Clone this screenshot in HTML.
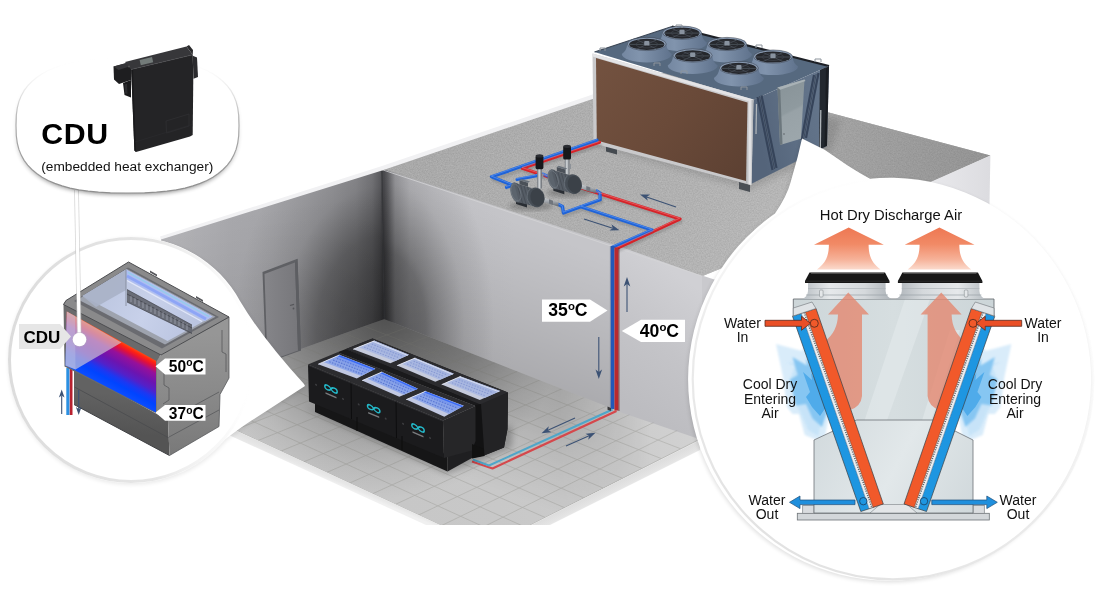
<!DOCTYPE html>
<html>
<head>
<meta charset="utf-8">
<title>Cooling diagram</title>
<style>
html,body{margin:0;padding:0;background:#fff;}
body{width:1100px;height:600px;overflow:hidden;position:relative;font-family:"Liberation Sans",sans-serif;}
svg{position:absolute;left:0;top:0;display:block;}
text{font-family:"Liberation Sans",sans-serif;}
svg{opacity:0.999;}
</style>
</head>
<body>
<svg width="1100" height="600" viewBox="0 0 1100 600">
<defs>
  <!-- DEFS-START -->
  <filter id="speck" x="0" y="0" width="100%" height="100%" color-interpolation-filters="sRGB">
    <feTurbulence type="fractalNoise" baseFrequency="0.75" numOctaves="2" seed="7" result="n"/>
    <feColorMatrix in="n" type="matrix" values="0.15 0 0 0 0.61  0.15 0 0 0 0.61  0.15 0 0 0 0.61  0 0 0 0 1" result="g"/>
    <feComposite in="g" in2="SourceGraphic" operator="in"/>
  </filter>
  <filter id="b1"><feGaussianBlur stdDeviation="1"/></filter>
  <filter id="b2"><feGaussianBlur stdDeviation="2"/></filter>
  <filter id="b3"><feGaussianBlur stdDeviation="3"/></filter>
  <filter id="b6"><feGaussianBlur stdDeviation="6"/></filter>
  <linearGradient id="gLeftWall" gradientUnits="userSpaceOnUse" x1="161" y1="0" x2="384" y2="0">
    <stop offset="0.000" stop-color="#bababe"/>
    <stop offset="0.309" stop-color="#adadb1"/>
    <stop offset="0.498" stop-color="#aaaaae"/>
    <stop offset="0.655" stop-color="#a6a6aa"/>
    <stop offset="0.771" stop-color="#a0a0a4"/>
    <stop offset="0.874" stop-color="#96969a"/>
    <stop offset="0.946" stop-color="#828286"/>
    <stop offset="0.982" stop-color="#69696d"/>
    <stop offset="1.000" stop-color="#505054"/>
  </linearGradient>
  <linearGradient id="gBackWall" gradientUnits="userSpaceOnUse" x1="384" y1="0" x2="614" y2="0">
    <stop offset="0.000" stop-color="#4e4e52"/>
    <stop offset="0.017" stop-color="#66666a"/>
    <stop offset="0.048" stop-color="#9e9ea2"/>
    <stop offset="0.113" stop-color="#b9b9bd"/>
    <stop offset="0.217" stop-color="#c0c0c4"/>
    <stop offset="0.565" stop-color="#c5c5c9"/>
    <stop offset="1.000" stop-color="#c5c5c9"/>
  </linearGradient>
  <radialGradient id="gBackWallV" gradientUnits="userSpaceOnUse" cx="0" cy="0" r="1" gradientTransform="translate(384,328) scale(110,200)">
    <stop offset="0" stop-color="#000" stop-opacity="0.46"/>
    <stop offset="0.33" stop-color="#000" stop-opacity="0.4"/>
    <stop offset="0.38" stop-color="#000" stop-opacity="0.38"/>
    <stop offset="0.44" stop-color="#000" stop-opacity="0.31"/>
    <stop offset="0.57" stop-color="#000" stop-opacity="0.21"/>
    <stop offset="0.73" stop-color="#000" stop-opacity="0.09"/>
    <stop offset="0.9" stop-color="#000" stop-opacity="0.04"/>
    <stop offset="1" stop-color="#000" stop-opacity="0"/>
  </radialGradient>
  <linearGradient id="gFloor" gradientUnits="userSpaceOnUse" x1="200" y1="0" x2="700" y2="0">
    <stop offset="0" stop-color="#c5c5c5"/>
    <stop offset="0.6" stop-color="#c8c8c8"/>
    <stop offset="0.85" stop-color="#cccccc"/>
    <stop offset="1" stop-color="#d2d2d2"/>
  </linearGradient>
  <linearGradient id="gCutWall" gradientUnits="userSpaceOnUse" x1="620" y1="400" x2="700" y2="290">
    <stop offset="0" stop-color="#bcbcc0"/>
    <stop offset="0.5" stop-color="#c4c4c8"/>
    <stop offset="1" stop-color="#d0d0d4"/>
  </linearGradient>

  <linearGradient id="gBrown" gradientUnits="userSpaceOnUse" x1="596" y1="60" x2="748" y2="180">
    <stop offset="0" stop-color="#735240"/>
    <stop offset="0.5" stop-color="#6a4a39"/>
    <stop offset="1" stop-color="#5c4032"/>
  </linearGradient>
  <linearGradient id="gSilverV" gradientUnits="userSpaceOnUse" x1="746" y1="0" x2="754" y2="0">
    <stop offset="0" stop-color="#a9abae"/>
    <stop offset="0.5" stop-color="#e9e9eb"/>
    <stop offset="1" stop-color="#9a9da1"/>
  </linearGradient>
  <linearGradient id="gCoolSide" gradientUnits="userSpaceOnUse" x1="753" y1="120" x2="829" y2="100">
    <stop offset="0" stop-color="#54647a"/>
    <stop offset="0.5" stop-color="#5e6f85"/>
    <stop offset="1" stop-color="#65768c"/>
  </linearGradient>
  <linearGradient id="gCtrl" gradientUnits="userSpaceOnUse" x1="780" y1="90" x2="803" y2="135">
    <stop offset="0" stop-color="#8a959a"/>
    <stop offset="0.45" stop-color="#8f9a9f"/>
    <stop offset="0.5" stop-color="#98a2a7"/>
    <stop offset="1" stop-color="#9ca6ab"/>
  </linearGradient>
  <radialGradient id="gFanIn" cx="0.5" cy="0.5" r="0.5">
    <stop offset="0" stop-color="#4a4f57"/>
    <stop offset="0.3" stop-color="#22252b"/>
    <stop offset="1" stop-color="#2d3138"/>
  </radialGradient>

  <linearGradient id="gSteel" x1="0" y1="0" x2="1" y2="0">
    <stop offset="0" stop-color="#6d7279"/>
    <stop offset="0.45" stop-color="#d9dde0"/>
    <stop offset="1" stop-color="#5f646b"/>
  </linearGradient>
  <linearGradient id="gSteel2" x1="0" y1="0" x2="0" y2="1">
    <stop offset="0" stop-color="#c9cdd1"/>
    <stop offset="0.5" stop-color="#9da2a8"/>
    <stop offset="1" stop-color="#5f646b"/>
  </linearGradient>

  <linearGradient id="gDoor" gradientUnits="userSpaceOnUse" x1="265" y1="300" x2="298" y2="300">
    <stop offset="0" stop-color="#858589"/>
    <stop offset="1" stop-color="#77777b"/>
  </linearGradient>

  <linearGradient id="gGlassF" x1="0" y1="1" x2="1" y2="0">
    <stop offset="0" stop-color="#a9baec"/>
    <stop offset="0.4" stop-color="#8da6e8"/>
    <stop offset="1" stop-color="#6d8ce6"/>
  </linearGradient>
  <linearGradient id="gGlassB" x1="0" y1="1" x2="1" y2="0">
    <stop offset="0" stop-color="#b9c4e4"/>
    <stop offset="0.5" stop-color="#a7b6e0"/>
    <stop offset="1" stop-color="#98aadc"/>
  </linearGradient>

  <linearGradient id="gRingL" gradientUnits="userSpaceOnUse" x1="10" y1="360" x2="252" y2="360">
    <stop offset="0" stop-color="#dcdcdc"/>
    <stop offset="0.6" stop-color="#e6e6e6"/>
    <stop offset="0.9" stop-color="#f4f4f4" stop-opacity="0.5"/>
    <stop offset="1" stop-color="#fff" stop-opacity="0"/>
  </linearGradient>
  <linearGradient id="gHeat" gradientUnits="userSpaceOnUse" x1="110" y1="335.4" x2="88.2" y2="375.7">
    <stop offset="0" stop-color="#ff4a14"/>
    <stop offset="0.06" stop-color="#ff2410"/>
    <stop offset="0.14" stop-color="#e0103c"/>
    <stop offset="0.26" stop-color="#96109a"/>
    <stop offset="0.45" stop-color="#6c14b0"/>
    <stop offset="0.6" stop-color="#5420c8"/>
    <stop offset="0.74" stop-color="#1c38f2"/>
    <stop offset="0.86" stop-color="#0044ff"/>
    <stop offset="1" stop-color="#0a4cff"/>
  </linearGradient>
  <linearGradient id="gULower" gradientUnits="userSpaceOnUse" x1="120" y1="395" x2="116" y2="432">
    <stop offset="0" stop-color="#626262"/>
    <stop offset="1" stop-color="#545454"/>
  </linearGradient>
  <linearGradient id="gURight" gradientUnits="userSpaceOnUse" x1="190" y1="335" x2="195" y2="450">
    <stop offset="0" stop-color="#969696"/>
    <stop offset="0.5" stop-color="#8a8a8a"/>
    <stop offset="1" stop-color="#7a7a7a"/>
  </linearGradient>
  <linearGradient id="gTank" gradientUnits="userSpaceOnUse" x1="100" y1="290" x2="190" y2="335">
    <stop offset="0" stop-color="#bcc6e0"/>
    <stop offset="0.5" stop-color="#c8d1ea"/>
    <stop offset="1" stop-color="#bac4e0"/>
  </linearGradient>

  <linearGradient id="gBubEdge" gradientUnits="userSpaceOnUse" x1="0" y1="58" x2="0" y2="194">
    <stop offset="0" stop-color="#fff" stop-opacity="0"/>
    <stop offset="0.22" stop-color="#d0d0d0" stop-opacity="0.4"/>
    <stop offset="0.45" stop-color="#b0b0b0"/>
    <stop offset="1" stop-color="#8e8e8e"/>
  </linearGradient>
  <linearGradient id="gBubMask" gradientUnits="userSpaceOnUse" x1="0" y1="70" x2="0" y2="196">
    <stop offset="0" stop-color="#000"/>
    <stop offset="0.45" stop-color="#444"/>
    <stop offset="1" stop-color="#fff"/>
  </linearGradient>
  <mask id="mBub" maskUnits="userSpaceOnUse" x="0" y="40" width="260" height="170"><rect x="0" y="40" width="260" height="170" fill="url(#gBubMask)"/></mask>

  <linearGradient id="gRWall" gradientUnits="userSpaceOnUse" x1="930" y1="0" x2="990" y2="0">
    <stop offset="0" stop-color="#e9e9ec"/>
    <stop offset="1" stop-color="#dcdce0"/>
  </linearGradient>
  <linearGradient id="gRingR" gradientUnits="userSpaceOnUse" x1="1000" y1="210" x2="800" y2="560">
    <stop offset="0" stop-color="#fff" stop-opacity="0"/>
    <stop offset="0.3" stop-color="#f4f4f4" stop-opacity="0.4"/>
    <stop offset="0.6" stop-color="#ebebeb" stop-opacity="0.9"/>
    <stop offset="1" stop-color="#e2e2e2"/>
  </linearGradient>
  <linearGradient id="gHotTop" gradientUnits="userSpaceOnUse" x1="0" y1="227" x2="0" y2="270">
    <stop offset="0" stop-color="#ee7752"/>
    <stop offset="0.4" stop-color="#f18a66"/>
    <stop offset="0.75" stop-color="#f6b198"/>
    <stop offset="1" stop-color="#fbdccf"/>
  </linearGradient>
  <linearGradient id="gBody" gradientUnits="userSpaceOnUse" x1="793" y1="0" x2="994" y2="0">
    <stop offset="0" stop-color="#cdd6d9"/>
    <stop offset="0.5" stop-color="#d6dee0"/>
    <stop offset="1" stop-color="#ccd5d8"/>
  </linearGradient>
  <linearGradient id="gBody2" gradientUnits="userSpaceOnUse" x1="814" y1="430" x2="973" y2="513">
    <stop offset="0" stop-color="#d2dadd"/>
    <stop offset="0.5" stop-color="#e2e8ea"/>
    <stop offset="1" stop-color="#d0d8db"/>
  </linearGradient>
  <linearGradient id="gCyl" gradientUnits="userSpaceOnUse" x1="803" y1="0" x2="891" y2="0">
    <stop offset="0" stop-color="#b9bfc4"/>
    <stop offset="0.3" stop-color="#e6e9eb"/>
    <stop offset="0.7" stop-color="#d5d9dc"/>
    <stop offset="1" stop-color="#aeb4b9"/>
  </linearGradient>

  <linearGradient id="gRoofShade" gradientUnits="userSpaceOnUse" x1="450" y1="120" x2="760" y2="300">
    <stop offset="0" stop-color="#000" stop-opacity="0.03"/>
    <stop offset="0.5" stop-color="#fff" stop-opacity="0"/>
    <stop offset="1" stop-color="#fff" stop-opacity="0.12"/>
  </linearGradient>

  <linearGradient id="gRoofShade2" gradientUnits="userSpaceOnUse" x1="780" y1="0" x2="990" y2="0">
    <stop offset="0" stop-color="#000" stop-opacity="0"/>
    <stop offset="0.3" stop-color="#000" stop-opacity="0.12"/>
    <stop offset="1" stop-color="#000" stop-opacity="0.2"/>
  </linearGradient>

  <radialGradient id="gLeftWallV" gradientUnits="userSpaceOnUse" cx="0" cy="0" r="1" gradientTransform="translate(384,335) scale(150,220)">
    <stop offset="0" stop-color="#000" stop-opacity="0.56"/>
    <stop offset="0.3" stop-color="#000" stop-opacity="0.48"/>
    <stop offset="0.45" stop-color="#000" stop-opacity="0.4"/>
    <stop offset="0.55" stop-color="#000" stop-opacity="0.29"/>
    <stop offset="0.68" stop-color="#000" stop-opacity="0.15"/>
    <stop offset="0.85" stop-color="#000" stop-opacity="0.08"/>
    <stop offset="1" stop-color="#000" stop-opacity="0.03"/>
  </radialGradient>

  <linearGradient id="gLeftWallV2" gradientUnits="userSpaceOnUse" x1="250" y1="210" x2="275" y2="360">
    <stop offset="0" stop-color="#000" stop-opacity="0"/>
    <stop offset="1" stop-color="#000" stop-opacity="0.08"/>
  </linearGradient>

  <linearGradient id="gBandL" gradientUnits="userSpaceOnUse" x1="300" y1="460" x2="297" y2="467">
    <stop offset="0" stop-color="#e2e2e2"/>
    <stop offset="0.6" stop-color="#e8e8e8"/>
    <stop offset="1" stop-color="#f0f0f0"/>
  </linearGradient>
  <linearGradient id="gBandR" gradientUnits="userSpaceOnUse" x1="620" y1="482" x2="624" y2="490">
    <stop offset="0" stop-color="#dedede"/>
    <stop offset="0.6" stop-color="#e4e4e4"/>
    <stop offset="1" stop-color="#ececec"/>
  </linearGradient>

  <linearGradient id="gBackWallF" gradientUnits="userSpaceOnUse" x1="450" y1="345" x2="501.3" y2="214.7">
    <stop offset="0" stop-color="#000" stop-opacity="0.13"/>
    <stop offset="0.4" stop-color="#000" stop-opacity="0.075"/>
    <stop offset="0.75" stop-color="#000" stop-opacity="0.03"/>
    <stop offset="1" stop-color="#000" stop-opacity="0"/>
  </linearGradient>
  <radialGradient id="gFloorR" gradientUnits="userSpaceOnUse" cx="384" cy="319" r="180">
    <stop offset="0" stop-color="#000" stop-opacity="0.5"/>
    <stop offset="0.1" stop-color="#000" stop-opacity="0.45"/>
    <stop offset="0.25" stop-color="#000" stop-opacity="0.37"/>
    <stop offset="0.38" stop-color="#000" stop-opacity="0.32"/>
    <stop offset="0.54" stop-color="#000" stop-opacity="0.25"/>
    <stop offset="0.7" stop-color="#000" stop-opacity="0.15"/>
    <stop offset="0.85" stop-color="#000" stop-opacity="0.06"/>
    <stop offset="1" stop-color="#000" stop-opacity="0"/>
  </radialGradient>

  <linearGradient id="gShroud" x1="0" y1="0" x2="1" y2="0">
    <stop offset="0" stop-color="#7487a1"/>
    <stop offset="0.35" stop-color="#8194ad"/>
    <stop offset="1" stop-color="#5f728c"/>
  </linearGradient>

  <linearGradient id="gFloorB" gradientUnits="userSpaceOnUse" x1="500" y1="364.7" x2="456.8" y2="474.5">
    <stop offset="0" stop-color="#000" stop-opacity="0.18"/>
    <stop offset="0.297" stop-color="#000" stop-opacity="0.14"/>
    <stop offset="0.432" stop-color="#000" stop-opacity="0.10"/>
    <stop offset="0.61" stop-color="#000" stop-opacity="0.06"/>
    <stop offset="1" stop-color="#000" stop-opacity="0"/>
  </linearGradient>
  <linearGradient id="gFloorBM" gradientUnits="userSpaceOnUse" x1="560" y1="0" x2="650" y2="0">
    <stop offset="0" stop-color="#fff"/>
    <stop offset="1" stop-color="#000"/>
  </linearGradient>
  <mask id="mFloorB" maskUnits="userSpaceOnUse" x="150" y="300" width="600" height="240"><rect x="150" y="300" width="600" height="240" fill="url(#gFloorBM)"/></mask>
  <!-- DEFS-END -->
</defs>

<!-- ============ BUILDING ============ -->
<g id="building">
  <!-- roof -->
  <polygon points="381,169 670,70.400 990.400,155.400 929,183 702,276.300" fill="#adadad"/>
  <polygon points="381,169 670,70.400 990.400,155.400 929,183 702,276.300" fill="#fff" filter="url(#speck)" opacity="0.8"/>
  <polygon points="381,169 670,70.400 990.400,155.400 929,183 702,276.300" fill="url(#gRoofShade)"/>
  <polygon points="381,169 670,70.400 990.400,155.400 929,183 702,276.300" fill="url(#gRoofShade2)"/>
  <!-- right wall sliver under roof right end -->
  <polygon points="990.400,155.400 925,184.500 925,230 989,230" fill="url(#gRWall)"/>
  <polygon points="161.600,397.500 384,317.500 614,408 700,436.500 700,440 531,525 440,525 166,398" fill="url(#gFloor)"/>
  <polygon points="161.600,397.500 384,317.500 614,408 700,436.500 700,440 531,525 440,525 166,398" fill="url(#gFloorR)"/>
  <polygon points="161.600,397.500 384,317.500 614,408 700,436.500 700,440 531,525 440,525 166,398" fill="url(#gFloorB)" mask="url(#mFloorB)"/>
  <!-- cut wall face right of pipes -->
  <polygon points="702,275.500 725,283 725,330 702,330" fill="#c9c9cd"/>
  <polygon points="614,244.500 702,275.800 702,440 614,410" fill="url(#gCutWall)"/>
  <!-- back wall -->
  <polygon points="381,168.500 616,245.400 616,410 384,319" fill="url(#gBackWall)"/>
  <polygon points="381,168.500 616,245.400 616,410 384,319" fill="url(#gBackWallV)"/>
  <polygon points="381,168.500 616,245.400 616,410 384,319" fill="url(#gBackWallF)"/>
  <!-- left wall -->
  <polygon points="161,237 381.500,168.500 384.500,319 161.600,399" fill="url(#gLeftWall)"/>
  <polygon points="161,237 381.500,168.500 384.500,319 161.600,399" fill="url(#gLeftWallV)"/>
  <polygon points="161,237 381.500,168.500 384.500,319 161.600,399" fill="url(#gLeftWallV2)"/>
  <!-- floor -->
  <clipPath id="cFloor"><polygon points="161.600,399 384,319 614,409.500 700,438 700,440 531,525 440,525 166,398"/></clipPath>
  <g clip-path="url(#cFloor)" stroke="#77776f" stroke-width="0.8" opacity="0.3"><line x1="406.6" y1="327.6" x2="188.9" y2="408.6"/><line x1="429.1" y1="336.1" x2="211.9" y2="419.3"/><line x1="451.7" y1="344.7" x2="234.8" y2="429.9"/><line x1="474.3" y1="353.3" x2="257.8" y2="440.6"/><line x1="496.9" y1="361.9" x2="280.7" y2="451.2"/><line x1="519.4" y1="370.4" x2="303.7" y2="461.9"/><line x1="542.0" y1="379.0" x2="326.6" y2="472.5"/><line x1="564.6" y1="387.6" x2="349.5" y2="483.1"/><line x1="587.1" y1="396.1" x2="372.5" y2="493.8"/><line x1="609.7" y1="404.7" x2="395.4" y2="504.4"/><line x1="632.3" y1="413.3" x2="418.4" y2="515.1"/><line x1="654.9" y1="421.9" x2="441.3" y2="525.7"/><line x1="677.4" y1="430.4" x2="464.3" y2="536.4"/><line x1="700.0" y1="439.0" x2="487.2" y2="547.0"/><line x1="364.2" y1="326.2" x2="680.7" y2="448.8"/><line x1="344.4" y1="333.4" x2="661.3" y2="458.6"/><line x1="324.5" y1="340.5" x2="642.0" y2="468.5"/><line x1="304.7" y1="347.7" x2="622.6" y2="478.3"/><line x1="284.9" y1="354.9" x2="603.3" y2="488.1"/><line x1="265.1" y1="362.1" x2="583.9" y2="497.9"/><line x1="245.3" y1="369.3" x2="564.6" y2="507.7"/><line x1="225.5" y1="376.5" x2="545.2" y2="517.5"/><line x1="205.6" y1="383.6" x2="525.9" y2="527.4"/><line x1="185.8" y1="390.8" x2="506.5" y2="537.2"/><line x1="166.0" y1="398.0" x2="487.2" y2="547.0"/></g>
  <!-- floor edge thickness -->
  <polygon points="166,398 440,525 426,525 161,404" fill="url(#gBandL)"/>
  <polygon points="700,440 700,450 550,525 531,525" fill="url(#gBandR)"/>
  <line x1="381" y1="169.300" x2="702" y2="276.300" stroke="#d4d4d6" stroke-width="1" opacity="0.8"/>
  <!-- roof rims -->
  <polygon points="160,236.5 380.5,166.5 594,94 594,98.5 382,170.5 161,239.5" fill="#f1f1f3"/>
  <line x1="381.8" y1="171" x2="384.2" y2="319" stroke="#2e2f32" stroke-width="1.6" opacity="0.55"/>
</g>
<!-- BUILDING-END -->

<!-- ============ COOLER (3D) ============ -->
<g id="cooler">
  <!-- shadow on roof -->
  <polygon points="598,146 750,190 832,150 840,120 700,90" fill="#000" opacity="0.12" filter="url(#b3)"/>
  <!-- feet -->
  <polygon points="606,146 617,149 617,154.500 606,151.500" fill="#454a50"/>
  <polygon points="739,182 750,185 750,192 739,189" fill="#4a4f55"/>
  <!-- top face -->
  <polygon points="594.5,52 672,26.5 829,66 753,100" fill="#56697f"/>
  <polyline points="672,26.5 829,66" fill="none" stroke="#1d2026" stroke-width="2.2"/>
  <polyline points="594.5,52 672,26.5" fill="none" stroke="#3b4655" stroke-width="1.2"/>
  <!-- right face -->
  <polygon points="753,100 829,66 827,146 751,184" fill="url(#gCoolSide)"/>
  <!-- braces on right face -->
  <g stroke="#36445a" stroke-width="2.2" fill="none" stroke-linecap="butt">
    <line x1="757.500" y1="97" x2="772.500" y2="170"/>
    <line x1="761.500" y1="95.500" x2="776.500" y2="168"/>
    <line x1="814" y1="75" x2="801.500" y2="140"/>
    <line x1="818.500" y1="73" x2="806" y2="138"/>
  </g>
  <g stroke="#2f3a4a" stroke-width="0.7" fill="none">
    <line x1="759.500" y1="96.200" x2="774.500" y2="169"/>
    <line x1="816.200" y1="74" x2="803.700" y2="139"/>
  </g>
  <polygon points="820,70 826.500,67 825,147 819,149.500" fill="#23282f"/>
  <line x1="820.800" y1="110" x2="820.300" y2="148" stroke="#aeb3b8" stroke-width="1.300"/>
  <polygon points="826,68 829,66 827,146 824.500,147" fill="#1a1d22"/>
  <line x1="756.500" y1="104" x2="756" y2="134" stroke="#b4b9bd" stroke-width="1.200"/>
  <!-- control box -->
  <polygon points="777.500,87.500 804.500,79.500 801,138.700 780,145" fill="url(#gCtrl)"/>
  <polygon points="777.500,87.500 780.300,89.800 782.500,144.300 780,145" fill="#6c777d"/>
  <polygon points="777.500,87.500 804.500,79.500 805.500,81 780.300,89.800" fill="#a9b2b6"/>
  <circle cx="784" cy="134" r="0.800" fill="#5b6268"/>
  <!-- brown panel w/ silver frame -->
  <polygon points="592.5,53.5 753.5,99.5 751.5,185 593.5,143.5" fill="#c9c9cb"/>
  <polygon points="592.5,53.5 753.5,99.5 753.3,102.5 592.6,56.5" fill="#e4e4e6"/>
  <polygon points="747.5,101 753.5,99.5 751.5,185 746,183.5" fill="url(#gSilverV)"/>
  <polygon points="596,58 747.5,102.5 746,181 596.8,140.5" fill="url(#gBrown)"/>
  <!-- fans -->
  <g id="fans">
    <path d="M662.5,32.7 C662,37.7 660,40.7 657,42.7 A25,8.5 0 0 0 707,42.7 C704,40.7 702,37.7 701.5,32.7 Z" fill="url(#gShroud)"/>
    <ellipse cx="682" cy="32.7" rx="19.5" ry="6.6" fill="#8b9db5"/>
    <ellipse cx="682" cy="33.1" rx="17.6" ry="5.6" fill="#25272c"/>
    <g stroke="#4c525b" stroke-width="0.9" opacity="0.95">
      <line x1="665" y1="33.1" x2="699" y2="33.1"/>
      <line x1="672" y1="28.500000000000004" x2="692" y2="37.7"/>
      <line x1="692" y1="28.500000000000004" x2="672" y2="37.7"/>
    </g>
    <ellipse cx="682" cy="33.1" rx="11" ry="3.5" fill="none" stroke="#3f444c" stroke-width="0.7"/>
    <rect x="679.4" y="29.700000000000003" width="5.2" height="4.6" rx="1" fill="#8993a0"/>
    <ellipse cx="682" cy="32.7" rx="19.5" ry="6.6" fill="none" stroke="#39414d" stroke-width="0.7" opacity="0.8"/>
    <path d="M627.3,44 C626.8,49 624.8,52 621.8,54 A25,8.5 0 0 0 671.8,54 C668.8,52 666.8,49 666.3,44 Z" fill="url(#gShroud)"/>
    <ellipse cx="646.8" cy="44" rx="19.5" ry="6.6" fill="#8b9db5"/>
    <ellipse cx="646.8" cy="44.4" rx="17.6" ry="5.6" fill="#25272c"/>
    <g stroke="#4c525b" stroke-width="0.9" opacity="0.95">
      <line x1="629.8" y1="44.4" x2="663.8" y2="44.4"/>
      <line x1="636.8" y1="39.8" x2="656.8" y2="49"/>
      <line x1="656.8" y1="39.8" x2="636.8" y2="49"/>
    </g>
    <ellipse cx="646.8" cy="44.4" rx="11" ry="3.5" fill="none" stroke="#3f444c" stroke-width="0.7"/>
    <rect x="644.1999999999999" y="41" width="5.2" height="4.6" rx="1" fill="#8993a0"/>
    <ellipse cx="646.8" cy="44" rx="19.5" ry="6.6" fill="none" stroke="#39414d" stroke-width="0.7" opacity="0.8"/>
    <path d="M707.5,44 C707,49 705,52 702,54 A25,8.5 0 0 0 752,54 C749,52 747,49 746.5,44 Z" fill="url(#gShroud)"/>
    <ellipse cx="727" cy="44" rx="19.5" ry="6.6" fill="#8b9db5"/>
    <ellipse cx="727" cy="44.4" rx="17.6" ry="5.6" fill="#25272c"/>
    <g stroke="#4c525b" stroke-width="0.9" opacity="0.95">
      <line x1="710" y1="44.4" x2="744" y2="44.4"/>
      <line x1="717" y1="39.8" x2="737" y2="49"/>
      <line x1="737" y1="39.8" x2="717" y2="49"/>
    </g>
    <ellipse cx="727" cy="44.4" rx="11" ry="3.5" fill="none" stroke="#3f444c" stroke-width="0.7"/>
    <rect x="724.4" y="41" width="5.2" height="4.6" rx="1" fill="#8993a0"/>
    <ellipse cx="727" cy="44" rx="19.5" ry="6.6" fill="none" stroke="#39414d" stroke-width="0.7" opacity="0.8"/>
    <path d="M673.2,55.5 C672.7,60.5 670.7,63.5 667.7,65.5 A25,8.5 0 0 0 717.7,65.5 C714.7,63.5 712.7,60.5 712.2,55.5 Z" fill="url(#gShroud)"/>
    <ellipse cx="692.7" cy="55.5" rx="19.5" ry="6.6" fill="#8b9db5"/>
    <ellipse cx="692.7" cy="55.9" rx="17.6" ry="5.6" fill="#25272c"/>
    <g stroke="#4c525b" stroke-width="0.9" opacity="0.95">
      <line x1="675.7" y1="55.9" x2="709.7" y2="55.9"/>
      <line x1="682.7" y1="51.3" x2="702.7" y2="60.5"/>
      <line x1="702.7" y1="51.3" x2="682.7" y2="60.5"/>
    </g>
    <ellipse cx="692.7" cy="55.9" rx="11" ry="3.5" fill="none" stroke="#3f444c" stroke-width="0.7"/>
    <rect x="690.1" y="52.5" width="5.2" height="4.6" rx="1" fill="#8993a0"/>
    <ellipse cx="692.7" cy="55.5" rx="19.5" ry="6.6" fill="none" stroke="#39414d" stroke-width="0.7" opacity="0.8"/>
    <path d="M753.5,56.6 C753,61.6 751,64.6 748,66.6 A25,8.5 0 0 0 798,66.6 C795,64.6 793,61.6 792.5,56.6 Z" fill="url(#gShroud)"/>
    <ellipse cx="773" cy="56.6" rx="19.5" ry="6.6" fill="#8b9db5"/>
    <ellipse cx="773" cy="57.0" rx="17.6" ry="5.6" fill="#25272c"/>
    <g stroke="#4c525b" stroke-width="0.9" opacity="0.95">
      <line x1="756" y1="57.0" x2="790" y2="57.0"/>
      <line x1="763" y1="52.4" x2="783" y2="61.6"/>
      <line x1="783" y1="52.4" x2="763" y2="61.6"/>
    </g>
    <ellipse cx="773" cy="57.0" rx="11" ry="3.5" fill="none" stroke="#3f444c" stroke-width="0.7"/>
    <rect x="770.4" y="53.6" width="5.2" height="4.6" rx="1" fill="#8993a0"/>
    <ellipse cx="773" cy="56.6" rx="19.5" ry="6.6" fill="none" stroke="#39414d" stroke-width="0.7" opacity="0.8"/>
    <path d="M719.4,68 C718.9,73 716.9,76 713.9,78 A25,8.5 0 0 0 763.9,78 C760.9,76 758.9,73 758.4,68 Z" fill="url(#gShroud)"/>
    <ellipse cx="738.9" cy="68" rx="19.5" ry="6.6" fill="#8b9db5"/>
    <ellipse cx="738.9" cy="68.4" rx="17.6" ry="5.6" fill="#25272c"/>
    <g stroke="#4c525b" stroke-width="0.9" opacity="0.95">
      <line x1="721.9" y1="68.4" x2="755.9" y2="68.4"/>
      <line x1="728.9" y1="63.8" x2="748.9" y2="73"/>
      <line x1="748.9" y1="63.8" x2="728.9" y2="73"/>
    </g>
    <ellipse cx="738.9" cy="68.4" rx="11" ry="3.5" fill="none" stroke="#3f444c" stroke-width="0.7"/>
    <rect x="736.3" y="65" width="5.2" height="4.6" rx="1" fill="#8993a0"/>
    <ellipse cx="738.9" cy="68" rx="19.5" ry="6.6" fill="none" stroke="#39414d" stroke-width="0.7" opacity="0.8"/>
  </g>
  <!-- lifting lugs -->
  <g fill="none" stroke="#8d949c" stroke-width="1">
    <path d="M600,51 v-3 h5 v3"/><path d="M654,66 v-3 h6 v3"/><path d="M681,74 v-3 h6 v3"/><path d="M741,90 v-3 h6 v3"/>
    <path d="M756,48 v-3 h6 v3"/><path d="M815,62 v-3 h6 v3"/><path d="M676,28 v-3 h6 v3"/>
  </g>
</g>
<!-- COOLER-END -->

<!-- ============ ROOF PIPES & PUMPS ============ -->
<g id="roofpipes" fill="none" stroke-linejoin="round" stroke-linecap="round">
  <g stroke="#000" opacity="0.14" stroke-width="3" transform="translate(1.5,2.6)" filter="url(#b1)">
    <polyline points="597,140.500 491.500,177 512.500,185"/>
    <polyline points="599.500,142.500 522.200,168.300 680,219 617,248"/>
    <polyline points="559,204.700 563.500,213 600.200,199.500 598.700,191.200"/>
    <polyline points="581.500,207 652,230 613,247"/>
  </g>
  <!-- red -->
  <polyline points="599.500,142.300 522.200,168.300 548,176.800" stroke="#d62329" stroke-width="3.2"/>
  <polyline points="580,187.400 680,219 616.500,248.500 616.500,300" stroke="#d62329" stroke-width="3.3"/>
  <!-- blue -->
  <polyline points="597,140.300 491.500,176.800 512.500,185.200" stroke="#1f63d8" stroke-width="3.3"/>
  <polyline points="506.500,187.300 510.500,186" stroke="#1f63d8" stroke-width="3.3"/>
  <polyline points="517,179.400 535.500,176 538,175" stroke="#1f63d8" stroke-width="3"/>
  <polyline points="543,174 549.500,177" stroke="#1f63d8" stroke-width="3"/>
  <polyline points="558.500,204.500 562.500,206.500 563.500,213 600.200,199.800 600,193 597,191" stroke="#1f63d8" stroke-width="3.3"/>
  <polyline points="581.500,207 652,230 612.500,247.200 612.500,300" stroke="#1f63d8" stroke-width="3.3"/>
  <polyline points="599.500,142.300 522.200,168.300 548,176.800" stroke="#f07a7a" stroke-width="0.9" opacity="0.65" transform="translate(-0.3,-0.8)"/>
  <polyline points="580,187.400 680,219 616.500,248.500 616.500,300" stroke="#f07a7a" stroke-width="0.9" opacity="0.65" transform="translate(-0.3,-0.8)"/>
  <polyline points="597,140.300 491.500,176.800 512.500,185.200" stroke="#6aa0f4" stroke-width="0.9" opacity="0.65" transform="translate(-0.3,-0.8)"/>
  <polyline points="506.500,187.300 510.500,186" stroke="#6aa0f4" stroke-width="0.9" opacity="0.65" transform="translate(-0.3,-0.8)"/>
  <polyline points="517,179.400 535.500,176 538,175" stroke="#6aa0f4" stroke-width="0.9" opacity="0.65" transform="translate(-0.3,-0.8)"/>
  <polyline points="543,174 549.500,177" stroke="#6aa0f4" stroke-width="0.9" opacity="0.65" transform="translate(-0.3,-0.8)"/>
  <polyline points="558.500,204.500 562.500,206.500 563.500,213 600.200,199.800 600,193 597,191" stroke="#6aa0f4" stroke-width="0.9" opacity="0.65" transform="translate(-0.3,-0.8)"/>
  <polyline points="581.500,207 652,230 612.500,247.200 612.500,300" stroke="#6aa0f4" stroke-width="0.9" opacity="0.65" transform="translate(-0.3,-0.8)"/>
</g>
<g id="pumps">
  <g>
    <rect x="564.8000000000001" y="158" width="4.6" height="21" fill="url(#gSteel)"/>
    <rect x="563.2" y="146" width="7.8" height="13.6" rx="1.6" fill="#17181b"/>
    <ellipse cx="567.1" cy="146.3" rx="3.9" ry="1.6" fill="#2c2e33"/>
    <rect x="569.4000000000001" y="164" width="1.6" height="5" fill="#8d9298"/>
  </g>
  <g transform="translate(37.3,-13.2)">
    <ellipse cx="531" cy="206" rx="22" ry="4.5" fill="#000" opacity="0.22" filter="url(#b2)"/>
    <polygon points="516,200.5 527,204 527,207.5 516,204" fill="#2a2e34"/>
    <polygon points="543.5,197.5 558.5,202.5 558.5,206.5 543.5,202" fill="url(#gSteel2)"/>
    <polygon points="549,199.3 553,200.700 553,205 549,203.600" fill="#70757c"/>
    <!-- motor -->
    <ellipse cx="516.5" cy="192.5" rx="5.8" ry="10.3" fill="#5c646d" transform="rotate(-16 516.5 192.5)"/>
    <path d="M513.8,182.600 L531.5,188 L537,207 L519.3,202.400 Z" fill="#555c65"/>
    <g stroke="#3d434b" stroke-width="0.7" opacity="0.8">
      <line x1="517" y1="183.800" x2="522.5" y2="203"/><line x1="520.5" y1="184.800" x2="526" y2="204"/><line x1="524" y1="185.900" x2="529.5" y2="205"/><line x1="527.5" y1="187" x2="533" y2="206"/>
    </g>
    <polygon points="519.5,180.200 528,182.800 528,186.800 519.500,184.200" fill="#4b5159"/>
    <polygon points="519.5,180.200 521.500,179 530,181.600 528,182.800" fill="#69717a"/>
    <!-- casing -->
    <ellipse cx="536.3" cy="197.300" rx="8.2" ry="10" fill="#464d55" transform="rotate(-16 536.3 197.3)"/>
    <ellipse cx="537.3" cy="197.600" rx="6.8" ry="8.600" fill="#3b4148" transform="rotate(-16 537.3 197.6)"/>
    <path d="M529.5,189.500 A8.200,10 -16 0 0 532.300,206" fill="none" stroke="#6a727b" stroke-width="0.8"/>
    <ellipse cx="516" cy="192.400" rx="4.6" ry="8.800" fill="none" stroke="#727a83" stroke-width="0.7" transform="rotate(-16 516 192.4)"/>
  </g>
  <g>
    <rect x="537.2" y="167.6" width="4.6" height="21" fill="url(#gSteel)"/>
    <rect x="535.6" y="155.6" width="7.8" height="13.6" rx="1.6" fill="#17181b"/>
    <ellipse cx="539.5" cy="155.9" rx="3.9" ry="1.6" fill="#2c2e33"/>
    <rect x="541.8000000000001" y="173.6" width="1.6" height="5" fill="#8d9298"/>
  </g>
  <g transform="translate(0,0)">
    <ellipse cx="531" cy="206" rx="22" ry="4.5" fill="#000" opacity="0.22" filter="url(#b2)"/>
    <polygon points="516,200.5 527,204 527,207.5 516,204" fill="#2a2e34"/>
    <polygon points="543.5,197.5 558.5,202.5 558.5,206.5 543.5,202" fill="url(#gSteel2)"/>
    <polygon points="549,199.3 553,200.700 553,205 549,203.600" fill="#70757c"/>
    <!-- motor -->
    <ellipse cx="516.5" cy="192.5" rx="5.8" ry="10.3" fill="#5c646d" transform="rotate(-16 516.5 192.5)"/>
    <path d="M513.8,182.600 L531.5,188 L537,207 L519.3,202.400 Z" fill="#555c65"/>
    <g stroke="#3d434b" stroke-width="0.7" opacity="0.8">
      <line x1="517" y1="183.800" x2="522.5" y2="203"/><line x1="520.5" y1="184.800" x2="526" y2="204"/><line x1="524" y1="185.900" x2="529.5" y2="205"/><line x1="527.5" y1="187" x2="533" y2="206"/>
    </g>
    <polygon points="519.5,180.200 528,182.800 528,186.800 519.500,184.200" fill="#4b5159"/>
    <polygon points="519.5,180.200 521.500,179 530,181.600 528,182.800" fill="#69717a"/>
    <!-- casing -->
    <ellipse cx="536.3" cy="197.300" rx="8.2" ry="10" fill="#464d55" transform="rotate(-16 536.3 197.3)"/>
    <ellipse cx="537.3" cy="197.600" rx="6.8" ry="8.600" fill="#3b4148" transform="rotate(-16 537.3 197.6)"/>
    <path d="M529.5,189.500 A8.200,10 -16 0 0 532.300,206" fill="none" stroke="#6a727b" stroke-width="0.8"/>
    <ellipse cx="516" cy="192.400" rx="4.6" ry="8.800" fill="none" stroke="#727a83" stroke-width="0.7" transform="rotate(-16 516 192.4)"/>
  </g>
</g>
<!-- ============ WALL PIPES ============ -->
<g id="wallpipes" fill="none">
  <line x1="612.5" y1="246" x2="612.5" y2="409" stroke="#2358b8" stroke-width="3.8"/>
  <line x1="616.5" y1="247.5" x2="616.5" y2="410.5" stroke="#b9292e" stroke-width="4"/>
  <line x1="619" y1="248" x2="619" y2="411" stroke="#5a2020" stroke-width="1.2" opacity="0.55"/>
  <line x1="610.3" y1="246" x2="610.3" y2="408" stroke="#7a8092" stroke-width="0.8" opacity="0.5"/>
  <!-- floor pipes -->
  <polyline points="616.5,411 492.5,468.5 472,461.5" stroke="#d5484c" stroke-width="2.2" stroke-linejoin="round"/>
  <polyline points="612.5,409.5 489,465.5 473,459.6" stroke="#4fa6c9" stroke-width="2" stroke-linejoin="round"/>
</g>
<polygon points="607.500,406.500 611,408 611,411 607.500,409.800" fill="#3a3a3c"/>
<!-- arrows -->
<g id="arrows">
  <line x1="676.0" y1="207.0" x2="646.6" y2="196.9" stroke="#3c5274" stroke-width="1.1"/><path d="M640.0,194.6 L650.1,194.6 L646.6,196.9 L647.9,200.8 Z" fill="#3c5274"/>
  <line x1="584.0" y1="219.0" x2="612.8" y2="228.2" stroke="#3c5274" stroke-width="1.1"/><path d="M619.5,230.3 L609.4,230.6 L612.8,228.2 L611.4,224.3 Z" fill="#3c5274"/>
  <line x1="627.0" y1="312.0" x2="627.0" y2="284.0" stroke="#3c5274" stroke-width="1.1"/><path d="M627.0,277.0 L630.3,286.5 L627.0,284.0 L623.7,286.5 Z" fill="#3c5274"/>
  <line x1="598.8" y1="337.0" x2="598.8" y2="372.0" stroke="#3c5274" stroke-width="1.1"/><path d="M598.8,379.0 L595.5,369.5 L598.8,372.0 L602.1,369.5 Z" fill="#3c5274"/>
  <line x1="575.0" y1="418.0" x2="547.9" y2="430.3" stroke="#3c5274" stroke-width="1.1"/><path d="M541.5,433.2 L548.8,426.3 L547.9,430.3 L551.5,432.3 Z" fill="#3c5274"/>
  <line x1="566.0" y1="446.0" x2="589.1" y2="435.7" stroke="#3c5274" stroke-width="1.1"/><path d="M595.5,432.8 L588.2,439.7 L589.1,435.7 L585.5,433.7 Z" fill="#3c5274"/>
</g>
<!-- temp labels -->
<g id="tlabels" font-weight="bold" font-size="16.5" fill="#000">
  <polygon points="542,299.5 590,299.5 607.5,310.6 590,321.7 542,321.7" fill="#fff"/>
  <text x="548.3" y="316.3" font-size="17.6">35<tspan font-size="11.4" dy="-6.3">o</tspan><tspan dy="6.3">C</tspan></text>
  <polygon points="685,319.8 641,319.8 621.8,330.9 641,342 685,342" fill="#fff"/>
  <text x="639.8" y="336.8" font-size="17.6">40<tspan font-size="11.4" dy="-6.3">o</tspan><tspan dy="6.3">C</tspan></text>
</g>
<!-- PIPES-END -->

<!-- ============ DOOR ============ -->
<g id="door">
  <polygon points="262.5,272 297.5,258.8 301,350.5 266,363" fill="#5f6064"/>
  <polygon points="264.5,274 295,262.5 298,350.5 267.5,361.5" fill="url(#gDoor)"/>
  <polygon points="295,262.5 297.5,258.8 301,350.5 298,350.5" fill="#5d5e62"/>
  <path d="M290,305.5 l4,-1.2" stroke="#55565a" stroke-width="1.3" fill="none"/>
  <circle cx="293.5" cy="308.5" r="0.9" fill="#55565a"/>
</g>
<!-- DOOR-END -->

<!-- ============ SERVERS ============ -->
<g id="servers">
  <!-- shadow -->
  <polygon points="305,408 447,474 512,448 512,425 470,440" fill="#000" opacity="0.22" filter="url(#b3)"/>
  <!-- back row: side + body -->
  <polygon points="346,349 372.5,338.5 508,392.5 507.5,429 504,447.5 484,455.5 476,440 476,405" fill="#19191b"/>
  <polygon points="480,404 508,392.5 507.5,429 504,447.5 484,455.5 481,440" fill="#232325"/>
  <!-- back row top -->
  <polygon points="346,349 372.5,338.5 508,392.5 480,404.5" fill="#2b2b2e"/>
  <polygon points="337.5,352.3 346,349 480,404.5 476,441 475.5,406" fill="#1a1a1c"/>
  <polygon points="475,405 481,404 484.500,456 472,458.500 472,444" fill="#121213"/>
  <!-- front row: base -->
  <polygon points="315,399 447.5,455 447.5,471.5 315,412" fill="#161617"/>
  <polygon points="447.5,455 472,444 472,458 447.5,471.5" fill="#1f1f21"/>
  <!-- front row: upper front face -->
  <polygon points="308,364.5 443,420.5 444,458 309,401.5" fill="#1b1b1d"/>
  <!-- side -->
  <polygon points="443,420.5 475.5,406 475.5,441 472,450.5 444,458" fill="#262628"/>
  <polygon points="472,444 484,449 484,455.5 472,458" fill="#111"/>
  <!-- front row top -->
  <polygon points="308,364.5 337.5,352.3 475.5,406 443,420.5" fill="#2c2c2f"/>
  <!-- module separations -->
  <g stroke="#0b0b0c" stroke-width="0.9">
    <line x1="351" y1="382.5" x2="351.5" y2="419"/><line x1="396" y1="401" x2="396.5" y2="438"/>
    <line x1="357" y1="417" x2="357" y2="431"/><line x1="402" y1="436" x2="402" y2="450"/>
  </g>
  <g stroke="#3a3a3d" stroke-width="0.7" opacity="0.8">
    <line x1="308" y1="365.2" x2="443" y2="421.2"/>
  </g>
  <!-- glass panels -->
  <g>
    <polygon points="353.2,349.2 374.5,340.8 409.0,354.8 390.4,363.2" fill="#c6cbdc"/>
    <polygon points="358.3,347.2 374.5,340.8 409.0,354.8 394.8,361.2" fill="url(#gGlassB)"/>
    <line x1="364.2" y1="347.1" x2="395.8" y2="359.3" stroke="#5a70c0" stroke-width="1.1" stroke-dasharray="1.5,1.3" opacity="0.4"/>
    <line x1="368.0" y1="345.6" x2="399.1" y2="357.8" stroke="#5a70c0" stroke-width="1.1" stroke-dasharray="1.5,1.3" opacity="0.4"/>
    <line x1="371.8" y1="344.1" x2="402.5" y2="356.3" stroke="#5a70c0" stroke-width="1.1" stroke-dasharray="1.5,1.3" opacity="0.4"/>
    <line x1="373.0" y1="341.4" x2="407.7" y2="355.4" stroke="#e6e9f4" stroke-width="1" opacity="0.8"/>
    <line x1="353.2" y1="349.2" x2="374.5" y2="340.8" stroke="#eef1fa" stroke-width="1" opacity="0.8"/>
    <polygon points="397.1,365.6 415.3,357.9 453.9,373.7 435.3,381.8" fill="#c6cbdc"/>
    <polygon points="401.5,363.8 415.3,357.9 453.9,373.7 439.7,379.9" fill="url(#gGlassB)"/>
    <line x1="407.1" y1="364.0" x2="440.6" y2="378.0" stroke="#5a70c0" stroke-width="1.1" stroke-dasharray="1.5,1.3" opacity="0.4"/>
    <line x1="410.4" y1="362.6" x2="443.9" y2="376.5" stroke="#5a70c0" stroke-width="1.1" stroke-dasharray="1.5,1.3" opacity="0.4"/>
    <line x1="413.6" y1="361.2" x2="447.3" y2="375.1" stroke="#5a70c0" stroke-width="1.1" stroke-dasharray="1.5,1.3" opacity="0.4"/>
    <line x1="414.0" y1="358.4" x2="452.6" y2="374.3" stroke="#e6e9f4" stroke-width="1" opacity="0.8"/>
    <line x1="397.1" y1="365.6" x2="415.3" y2="357.9" stroke="#eef1fa" stroke-width="1" opacity="0.8"/>
    <polygon points="441.7,384.6 460.7,376.4 500.3,391.1 479.8,400.1" fill="#c6cbdc"/>
    <polygon points="446.3,382.6 460.7,376.4 500.3,391.1 484.7,397.9" fill="url(#gGlassB)"/>
    <line x1="452.0" y1="382.7" x2="485.8" y2="396.0" stroke="#5a70c0" stroke-width="1.1" stroke-dasharray="1.5,1.3" opacity="0.4"/>
    <line x1="455.5" y1="381.2" x2="489.5" y2="394.3" stroke="#5a70c0" stroke-width="1.1" stroke-dasharray="1.5,1.3" opacity="0.4"/>
    <line x1="458.9" y1="379.7" x2="493.1" y2="392.7" stroke="#5a70c0" stroke-width="1.1" stroke-dasharray="1.5,1.3" opacity="0.4"/>
    <line x1="459.4" y1="376.9" x2="498.8" y2="391.7" stroke="#e6e9f4" stroke-width="1" opacity="0.8"/>
    <line x1="441.7" y1="384.6" x2="460.7" y2="376.4" stroke="#eef1fa" stroke-width="1" opacity="0.8"/>
    <polygon points="318.2,364.2 339.6,354.9 375.4,368.8 356.8,378.4" fill="#c2c9e2"/>
    <polygon points="323.3,361.9 339.6,354.9 375.4,368.8 361.3,376.1" fill="url(#gGlassF)"/>
    <line x1="329.3" y1="361.8" x2="362.1" y2="374.1" stroke="#2f4fc0" stroke-width="1.1" stroke-dasharray="1.5,1.3" opacity="0.55"/>
    <line x1="333.1" y1="360.1" x2="365.5" y2="372.4" stroke="#2f4fc0" stroke-width="1.1" stroke-dasharray="1.5,1.3" opacity="0.55"/>
    <line x1="337.0" y1="358.4" x2="368.9" y2="370.7" stroke="#2f4fc0" stroke-width="1.1" stroke-dasharray="1.5,1.3" opacity="0.55"/>
    <line x1="338.1" y1="355.5" x2="374.1" y2="369.5" stroke="#3a6cf8" stroke-width="1.5"/>
    <line x1="335.3" y1="356.7" x2="371.7" y2="370.7" stroke="#6f92f6" stroke-width="1.2" opacity="0.6"/>
    <line x1="318.2" y1="364.2" x2="339.6" y2="354.9" stroke="#eef1fa" stroke-width="1" opacity="0.8"/>
    <polygon points="362.1,380.6 382.1,371.9 417.9,388.7 399.3,396.8" fill="#c2c9e2"/>
    <polygon points="366.9,378.5 382.1,371.9 417.9,388.7 403.8,394.8" fill="url(#gGlassF)"/>
    <line x1="372.7" y1="378.6" x2="404.7" y2="392.9" stroke="#2f4fc0" stroke-width="1.1" stroke-dasharray="1.5,1.3" opacity="0.55"/>
    <line x1="376.2" y1="377.1" x2="408.1" y2="391.5" stroke="#2f4fc0" stroke-width="1.1" stroke-dasharray="1.5,1.3" opacity="0.55"/>
    <line x1="379.8" y1="375.5" x2="411.4" y2="390.0" stroke="#2f4fc0" stroke-width="1.1" stroke-dasharray="1.5,1.3" opacity="0.55"/>
    <line x1="380.7" y1="372.6" x2="416.6" y2="389.3" stroke="#3a6cf8" stroke-width="1.5"/>
    <line x1="378.1" y1="373.7" x2="414.2" y2="390.3" stroke="#6f92f6" stroke-width="1.2" opacity="0.6"/>
    <line x1="362.1" y1="380.6" x2="382.1" y2="371.9" stroke="#eef1fa" stroke-width="1" opacity="0.8"/>
    <polygon points="406.2,399.6 425.7,391.2 463.8,405.8 444.3,416.7" fill="#c2c9e2"/>
    <polygon points="410.9,397.6 425.7,391.2 463.8,405.8 449.0,414.1" fill="url(#gGlassF)"/>
    <line x1="416.6" y1="397.7" x2="450.0" y2="411.8" stroke="#2f4fc0" stroke-width="1.1" stroke-dasharray="1.5,1.3" opacity="0.55"/>
    <line x1="420.2" y1="396.2" x2="453.5" y2="409.9" stroke="#2f4fc0" stroke-width="1.1" stroke-dasharray="1.5,1.3" opacity="0.55"/>
    <line x1="423.7" y1="394.6" x2="457.0" y2="407.9" stroke="#2f4fc0" stroke-width="1.1" stroke-dasharray="1.5,1.3" opacity="0.55"/>
    <line x1="424.3" y1="391.8" x2="462.5" y2="406.6" stroke="#3a6cf8" stroke-width="1.5"/>
    <line x1="421.8" y1="392.9" x2="459.9" y2="408.0" stroke="#6f92f6" stroke-width="1.2" opacity="0.6"/>
    <line x1="406.2" y1="399.6" x2="425.7" y2="391.2" stroke="#eef1fa" stroke-width="1" opacity="0.8"/>
  </g>
  <!-- logos -->
  <g transform="matrix(1,0.415,0,1,331,389)">
    <path d="M0,0 C1.5,-2.9 6.2,-2.9 6.2,0 C6.2,2.9 1.5,2.9 0,0 C-1.5,-2.9 -6.2,-2.9 -6.2,0 C-6.2,2.9 -1.5,2.900 0,0 Z" fill="none" stroke="#24b9c9" stroke-width="1.5"/>
    <rect x="-5.500" y="5.600" width="11" height="1.500" fill="#b9bcc0" opacity="0.600"/>
    <circle cx="-15" cy="2" r="1" fill="#3d3d40"/><circle cx="12" cy="5" r="1" fill="#3d3d40"/>
  </g>
  <g transform="matrix(1,0.415,0,1,373.7,408.7)">
    <path d="M0,0 C1.5,-2.9 6.2,-2.9 6.2,0 C6.2,2.9 1.5,2.9 0,0 C-1.5,-2.9 -6.2,-2.9 -6.2,0 C-6.2,2.9 -1.5,2.900 0,0 Z" fill="none" stroke="#24b9c9" stroke-width="1.5"/>
    <rect x="-5.500" y="5.600" width="11" height="1.500" fill="#b9bcc0" opacity="0.600"/>
    <circle cx="-15" cy="2" r="1" fill="#3d3d40"/><circle cx="12" cy="5" r="1" fill="#3d3d40"/>
  </g>
  <g transform="matrix(1,0.415,0,1,418,428)">
    <path d="M0,0 C1.5,-2.9 6.2,-2.9 6.2,0 C6.2,2.9 1.5,2.9 0,0 C-1.5,-2.9 -6.2,-2.9 -6.2,0 C-6.2,2.9 -1.5,2.900 0,0 Z" fill="none" stroke="#24b9c9" stroke-width="1.5"/>
    <rect x="-5.500" y="5.600" width="11" height="1.500" fill="#b9bcc0" opacity="0.600"/>
    <circle cx="-15" cy="2" r="1" fill="#3d3d40"/><circle cx="12" cy="5" r="1" fill="#3d3d40"/>
  </g>
</g>
<!-- SERVERS-END -->

<!-- ============ LEFT CALLOUT ============ -->
<g id="leftcallout">
  <!-- soft shadow -->
  <path d="M131,237 A123,123 0 1 0 225,439.500 Q240,428 250,421.500 L305,386 L304,384 Q262,338 240,301 A123,123 0 0 0 131,237 Z" fill="#000" opacity="0.09" filter="url(#b2)" transform="translate(0.5,1.5)"/>
  <path d="M131,237 A123,123 0 1 0 225,439.500 Q240,428 250,421.500 L305,386 L304,384 Q262,338 240,301 A123,123 0 0 0 131,237 Z" fill="#fff"/>
  <circle cx="131" cy="360" r="121.5" fill="none" stroke="url(#gRingL)" stroke-width="3"/>

  <!-- pipes under unit -->
  <rect x="66.300" y="368" width="3.200" height="47" fill="#2b90e2"/>
  <rect x="69.800" y="368" width="2.700" height="47" fill="#b8212f"/>


  <!-- unit: lower front -->
  <polygon points="74,369 168,420 169.500,455.500 74,404.500" fill="url(#gULower)"/>
  <line x1="74.500" y1="387" x2="169" y2="438" stroke="#4a4b4e" stroke-width="0.800"/>
  <line x1="74" y1="404.500" x2="169.500" y2="455.500" stroke="#3f4043" stroke-width="1"/>
  <g><line x1="61.7" y1="414.0" x2="61.7" y2="395.5" stroke="#3c5274" stroke-width="1.1"/><path d="M61.7,389.5 L64.5,397.5 L61.7,395.5 L58.9,397.5 Z" fill="#3c5274"/><line x1="78.7" y1="390.0" x2="78.7" y2="409.0" stroke="#3c5274" stroke-width="1.1"/><path d="M78.7,415.0 L75.9,407.0 L78.7,409.0 L81.5,407.0 Z" fill="#3c5274"/></g>
  <!-- unit: right face -->
  <polygon points="161,355 229,317 229,378 220,394.500 219,426.500 169.500,455.500 168,420 155.800,412.500 155.800,361" fill="url(#gURight)"/>
  <g stroke="#58595c" stroke-width="0.800" fill="none">
    <polyline points="168,420 219,392"/>
    <polyline points="169,437 219,410"/>
    <polyline points="164,362 164,385 169,388 169,400 163,404"/>
    <polyline points="222,330 222,352 226,354 226,372"/>
    <polyline points="160.500,354.500 229,317"/>
    <polyline points="229,317 229,378 220,394.500 219,426.500 169.500,455.500"/>
  </g>
  <!-- unit: front band + panel -->
  <polygon points="63.500,304.500 66,300.500 161,354.500 156.500,361.500 156.500,413.500 64.500,366.500" fill="#6a6a6b"/>
  <polygon points="66.800,311.500 156,360.800 156,412.500 65.500,365.500" fill="url(#gHeat)"/>
  <!-- CDU translucent overlay -->
  <polygon points="66.800,311.500 121.500,342.500 75.500,369.500 65.500,365.500" fill="#cfc6d6" opacity="0.680"/>
  <polygon points="66.800,311.500 75,316 75.500,369.500 65.500,365.500" fill="#c4c9e8" opacity="0.350"/>
  <!-- unit: top frame -->
  <polygon points="63.500,304.500 66,300.500 128.500,262 229,317 161,355" fill="#8a8a8b"/>
  <polygon points="63.500,304.500 66,300.500 128.500,262 229,317 161,355" fill="none" stroke="#4c4d50" stroke-width="1"/>
  <polygon points="74,301 128,267.500 219,317 162,348.500" fill="#6a6b70"/>
  <polygon points="78,299.500 127,269 215.500,316.800 165,344.500" fill="#9ea3ae"/>
  <!-- glass interior -->
  <polygon points="82.500,296 126,269.500 212.500,316.500 167.500,341" fill="url(#gTank)"/>
  <!-- back inner wall (LED blue) -->
  <polygon points="126,269.500 212.500,316.500 205,321 126,279" fill="#aebef2"/>
  <polyline points="128,272.500 209,316.500" stroke="#8fd0e8" stroke-width="1.200" fill="none" opacity="0.900"/>
  <polyline points="127,276 206,319" stroke="#8aa2f6" stroke-width="2.600" fill="none" opacity="0.900"/>
  <polyline points="127,280.500 202,321.500" stroke="#e3e9fb" stroke-width="1.400" fill="none" opacity="0.900"/>
  <!-- inner left wall -->
  <polygon points="82.500,296 126,269.500 126,290 96,307" fill="#a9b1c6" opacity="0.900"/>
  <line x1="126" y1="270" x2="126" y2="306" stroke="#7e8596" stroke-width="0.800"/>
  <!-- rack -->
  <polygon points="127,289.500 192,325 192,333.500 127,302" fill="#62656e" opacity="0.920"/>
  <g stroke="#383a40" stroke-width="0.700" opacity="0.900">
    <line x1="127" y1="289.500" x2="192" y2="325"/><line x1="127" y1="294" x2="192" y2="328"/><line x1="127" y1="302" x2="192" y2="333.500"/>
  </g>
  <g stroke="#c9cedb" stroke-width="0.600" opacity="0.750">
    <path d="M131,296 v6 M135,298 v6 M139,300 v6 M143,302 v6 M147,304 v6 M151,306 v6 M155,308 v6 M159,310 v6 M163,312 v6 M167,314 v6 M171,316 v6 M175,318 v6 M179,320 v6 M183,322 v6 M187,324 v6"/>
  </g>
  <!-- frame lugs -->
  <g fill="#55565a">
    <polygon points="150,272.500 157,276.500 157,274.500 150,270.500"/>
    <polygon points="196,298 203,302 203,300 196,296"/>
  </g>

  <!-- temp labels -->
  <g font-weight="bold" font-size="16.500" fill="#000">
    <polygon points="205.500,358.500 165,358.500 155.500,366.200 165,374.500 205.500,374.500" fill="#fff"/>
    <text x="168.8" y="371.7" font-size="15.6">50<tspan font-size="10.3" dy="-5.4">o</tspan><tspan dy="5.4">C</tspan></text>
    <polygon points="205.500,405 165,405 155.500,412.600 165,420.800 205.500,420.800" fill="#fff"/>
    <text x="168.8" y="419.1" font-size="15.6">37<tspan font-size="10.3" dy="-5.4">o</tspan><tspan dy="5.4">C</tspan></text>
  </g>
  <!-- CDU tag -->
  <polygon points="19,324 60,324 71,336.500 60,349 19,349" fill="#e6e6e6"/>
  <text x="23.500" y="342.800" font-weight="bold" font-size="17" fill="#000">CDU</text>
</g>
<!-- LEFT-END -->

<!-- ============ TOP-LEFT BUBBLE ============ -->
<g id="bubble">
  <!-- connector line -->
  <line x1="76.500" y1="190" x2="79.300" y2="338" stroke="#bdbdbd" stroke-width="4.800" opacity="0.600"/>
  <line x1="76.500" y1="190" x2="79.300" y2="338" stroke="#fff" stroke-width="3.200"/>
  <circle cx="79.500" cy="339.500" r="7.600" fill="#b9b0c4" opacity="0.500"/>
  <circle cx="79.500" cy="339.500" r="6.800" fill="#fff"/>
  <!-- bubble -->
  <path d="M239.0,125.5 L238.7,135.8 L237.7,143.1 L236.1,149.4 L233.8,155.1 L230.9,160.3 L227.3,165.1 L223.1,169.5 L218.3,173.5 L212.9,177.2 L206.9,180.5 L200.2,183.4 L192.9,185.9 L185.0,188.1 L176.3,189.8 L166.9,191.2 L156.5,192.2 L144.6,192.8 L127.5,193.0 L110.4,192.8 L98.5,192.2 L88.1,191.2 L78.7,189.8 L70.0,188.1 L62.1,185.9 L54.8,183.4 L48.1,180.5 L42.1,177.2 L36.7,173.5 L31.9,169.5 L27.7,165.1 L24.1,160.3 L21.2,155.1 L18.9,149.4 L17.3,143.1 L16.3,135.8 L16.0,125.5 L16.3,115.2 L17.3,107.9 L18.9,101.6 L21.2,95.9 L24.1,90.7 L27.7,85.9 L31.9,81.5 L36.7,77.5 L42.1,73.8 L48.1,70.5 L54.8,67.6 L62.1,65.1 L70.0,62.9 L78.7,61.2 L88.1,59.8 L98.5,58.8 L110.4,58.2 L127.5,58.0 L144.6,58.2 L156.5,58.8 L166.9,59.8 L176.3,61.2 L185.0,62.9 L192.9,65.1 L200.2,67.6 L206.9,70.5 L212.9,73.8 L218.3,77.5 L223.1,81.5 L227.3,85.9 L230.9,90.7 L233.8,95.9 L236.1,101.6 L237.7,107.9 L238.7,115.2 Z" fill="#000" opacity="0.45" filter="url(#b2)" mask="url(#mBub)" transform="translate(0,1.5)"/>
  <path d="M239.0,125.5 L238.7,135.8 L237.7,143.1 L236.1,149.4 L233.8,155.1 L230.9,160.3 L227.3,165.1 L223.1,169.5 L218.3,173.5 L212.9,177.2 L206.9,180.5 L200.2,183.4 L192.9,185.9 L185.0,188.1 L176.3,189.8 L166.9,191.2 L156.5,192.2 L144.6,192.8 L127.5,193.0 L110.4,192.8 L98.5,192.2 L88.1,191.2 L78.7,189.8 L70.0,188.1 L62.1,185.9 L54.8,183.4 L48.1,180.5 L42.1,177.2 L36.7,173.5 L31.9,169.5 L27.7,165.1 L24.1,160.3 L21.2,155.1 L18.9,149.4 L17.3,143.1 L16.3,135.8 L16.0,125.5 L16.3,115.2 L17.3,107.9 L18.9,101.6 L21.2,95.9 L24.1,90.7 L27.7,85.9 L31.9,81.5 L36.7,77.5 L42.1,73.8 L48.1,70.5 L54.8,67.6 L62.1,65.1 L70.0,62.9 L78.7,61.2 L88.1,59.8 L98.5,58.8 L110.4,58.2 L127.5,58.0 L144.6,58.2 L156.5,58.8 L166.9,59.8 L176.3,61.2 L185.0,62.9 L192.9,65.1 L200.2,67.6 L206.9,70.5 L212.9,73.8 L218.3,77.5 L223.1,81.5 L227.3,85.9 L230.9,90.7 L233.8,95.9 L236.1,101.6 L237.7,107.9 L238.7,115.2 Z" fill="#fff"/>
  <path d="M239.0,125.5 L238.7,135.8 L237.7,143.1 L236.1,149.4 L233.8,155.1 L230.9,160.3 L227.3,165.1 L223.1,169.5 L218.3,173.5 L212.9,177.2 L206.9,180.5 L200.2,183.4 L192.9,185.9 L185.0,188.1 L176.3,189.8 L166.9,191.2 L156.5,192.2 L144.6,192.8 L127.5,193.0 L110.4,192.8 L98.5,192.2 L88.1,191.2 L78.7,189.8 L70.0,188.1 L62.1,185.9 L54.8,183.4 L48.1,180.5 L42.1,177.2 L36.7,173.5 L31.9,169.5 L27.7,165.1 L24.1,160.3 L21.2,155.1 L18.9,149.4 L17.3,143.1 L16.3,135.8 L16.0,125.5 L16.3,115.2 L17.3,107.9 L18.9,101.6 L21.2,95.9 L24.1,90.7 L27.7,85.9 L31.9,81.5 L36.7,77.5 L42.1,73.8 L48.1,70.5 L54.8,67.6 L62.1,65.1 L70.0,62.9 L78.7,61.2 L88.1,59.8 L98.5,58.8 L110.4,58.2 L127.5,58.0 L144.6,58.2 L156.5,58.8 L166.9,59.8 L176.3,61.2 L185.0,62.9 L192.9,65.1 L200.2,67.6 L206.9,70.5 L212.9,73.8 L218.3,77.5 L223.1,81.5 L227.3,85.9 L230.9,90.7 L233.8,95.9 L236.1,101.6 L237.7,107.9 L238.7,115.2 Z" fill="none" stroke="url(#gBubEdge)" stroke-width="1.2"/>
  <!-- device -->
  <g id="device">
    <!-- left bracket -->
    <polygon points="113.500,66.500 131,62 131,80 119,84 114,79.500" fill="#1e1e20"/>
    <polygon points="113.500,66.500 126,63 131,66 118.500,70" fill="#343437"/>
    <polygon points="123,83 131,80 131,97.500 124.500,95" fill="#18181a"/>
    <polygon points="124.500,84.500 127,83.700 127.500,94 125,93.200" fill="#2c2c2f"/>
    <!-- right tab -->
    <polygon points="192.700,55.800 197,57.500 198,77 193.500,78.700" fill="#2b2b2e"/>
    <polygon points="186.500,46.500 189,45 193,50 192.700,54.800" fill="#2a2a2c"/>
    <!-- top face -->
    <polygon points="125,62 186.500,46.500 192.700,54.800 131.200,69.400" fill="#37373a"/>
    <!-- front face -->
    <polygon points="131.200,69.400 192.700,54.800 193.300,77 192.700,135 190,136.500 136,152 134.400,150.600" fill="#242426"/>
    <polygon points="131.200,69.400 134.400,150.600 136,152 133,70" fill="#1a1a1c"/>
    <line x1="131.200" y1="69.400" x2="192.700" y2="54.800" stroke="#4a4a4e" stroke-width="0.600"/>
    <!-- screen -->
    <polygon points="139.600,60 152,57 153.200,62.200 140.800,65.300" fill="#737b79"/>
    <polyline points="166,121 166.500,133 189,126 189,114 166,121" fill="none" stroke="#303033" stroke-width="0.700"/>
    <polyline points="135,142 192,124.500" fill="none" stroke="#2c2c2f" stroke-width="0.600"/>
    <circle cx="129" cy="66.500" r="0.900" fill="#555"/>
  </g>

  <text x="41.200" y="143.700" font-weight="bold" font-size="30.300" letter-spacing="0.600" fill="#000">CDU</text>
  <text x="41.300" y="170.600" font-size="13.700" fill="#111">(embedded heat exchanger)</text>
</g>
<!-- BUBBLE-END -->

<!-- ============ RIGHT CALLOUT ============ -->
<g id="rightcallout">
  <path d="M802,138.400 L824.600,149.700 L847.300,165.300 Q860,173.500 870,178.700 A201.500,201.500 0 1 1 775,213.500 Q787,196 790.600,182.300 L797.700,156.800 Z" fill="#000" opacity="0.130" filter="url(#b2)" transform="translate(-0.5,1.5)"/>
  <path d="M802,138.400 L824.600,149.700 L847.300,165.300 Q860,173.500 870,178.700 A201.500,201.500 0 1 1 775,213.500 Q787,196 790.600,182.300 L797.700,156.800 Z" fill="#fff"/>
  <circle cx="893" cy="379" r="200.300" fill="none" stroke="url(#gRingR)" stroke-width="2.200"/>

  <text x="891" y="219.700" font-size="14.800" text-anchor="middle" fill="#111">Hot Dry Discharge Air</text>

  <!-- top discharge arrows -->
  <path id="topArrow" d="M848.700,227.400 L883.800,244.800 L868.600,244.800 C868.600,256 872,263 880.500,269.500 L817,269.500 C825.500,263 828.900,256 828.900,244.800 L814,244.800 Z" fill="url(#gHotTop)"/>
  <use href="#topArrow" transform="translate(90.700,0)"/>

  <!-- cool air (behind coils) -->
  <g id="coolL">
    <polygon points="776,344 802,351 806,343 818,355 832,400 824,442 813,438.500 804.700,435 799,414 792.500,414 787,407 783,377" fill="#d9ecfa" filter="url(#b1)"/>
    <polygon points="786,362 795,366 790,380 796,405 800,412 808,430 818,436 826,404 814,366" fill="#c3e2f8" filter="url(#b1)" opacity="0.8"/>
    <polygon points="792.500,357 807,365.700 806,358 820,378 830,402 822,427 812.500,418.600 806,404 796,405.600 790,379.600 797.700,375" fill="#86c6f2" filter="url(#b1)"/>
    <polygon points="803,372 812,380 811,373 824,394 828,404 820,416 812,407 806,397 810,392" fill="#4fabea"/>
  </g>
  <use href="#coolL" transform="matrix(-1,0,0,1,1787.400,0)"/>

  <!-- base plate & feet -->
  <rect x="797.300" y="513.300" width="192" height="6.700" fill="#d3d7da" stroke="#6d7277" stroke-width="0.800"/>
  <rect x="802.700" y="505.500" width="11.300" height="7.800" fill="#d9dcdf" stroke="#7b8085" stroke-width="0.700"/>
  <rect x="973" y="505.500" width="11.300" height="7.800" fill="#d9dcdf" stroke="#7b8085" stroke-width="0.700"/>

  <!-- upper body -->
  <path d="M793.300,299 L994,299 L994,316 L926,511 L861.500,511 L793.300,316 Z" fill="url(#gBody)"/>
  <!-- diagonal sheen -->
  <g opacity="0.550">
    <polygon points="905,299 930,299 880,440 858,440" fill="#e6ecee"/>
    <polygon points="950,330 960,330 925,440 916,440" fill="#e6ecee"/>
  </g>
  <!-- lower body -->
  <polygon points="814,440 856.700,420 933,420 973,440 973,513 814,513" fill="url(#gBody2)" stroke="#6d7277" stroke-width="0.800"/>
  <polygon points="870,513 880,504.500 907,504.500 917,513" fill="#e3e6e8" stroke="#7b8085" stroke-width="0.600"/>
  <line x1="793.300" y1="299" x2="994" y2="299" stroke="#5c6166" stroke-width="0.800"/>
  <line x1="793.300" y1="299" x2="793.300" y2="316" stroke="#5c6166" stroke-width="0.800"/>
  <line x1="994" y1="299" x2="994" y2="316" stroke="#5c6166" stroke-width="0.800"/>

  <!-- fan housings -->
  <g id="fanL">
    <path d="M808,282.600 L885.600,282.600 L885.600,291 Q886,296.500 891.500,299 L802.500,299 Q807.600,296.500 808,291 Z" fill="url(#gCyl)"/>
    <line x1="808" y1="288.500" x2="885.600" y2="288.500" stroke="#aeb4b9" stroke-width="0.700"/>
    <line x1="806" y1="295" x2="888" y2="295" stroke="#9aa0a6" stroke-width="0.700"/>
    <rect x="819.500" y="290" width="3.600" height="7" rx="1" fill="#e4e7e9" stroke="#7b8085" stroke-width="0.500"/>
    <path d="M809.500,272.500 L885,272.500 L889.500,281 L889.500,283 L805,283 L805,281 Z" fill="#161616"/>
    <path d="M811,273.300 L884,273.300" stroke="#6a6a6a" stroke-width="0.800"/>
    <path d="M805.500,281.200 L889,281.200" stroke="#3d3d3d" stroke-width="0.600"/>
  </g>
  <use href="#fanL" transform="matrix(-1,0,0,1,1787.400,0)"/>

  <!-- inner hot arrows -->
  <path id="inArrow" d="M848.300,292.500 L869,314.500 L862,314.500 L862,396 Q861,406.500 850,410 L825,341 Q837.500,332 838,314.500 L828,314.500 Z" fill="#e5846a" opacity="0.760"/>
  <use href="#inArrow" transform="matrix(-1,0,0,1,1789.600,0)"/>

  <!-- coils -->

    <g >
      <polygon points="792.5,316.2 801.2,313.4 869.1,508.7 860.8,511.5" fill="#1e96e1"/>
      <polygon points="801.2,313.4 805.4,312.0 873.2,507.4 869.1,508.7" fill="#eceef0"/>
      <line x1="804.2" y1="312.4" x2="872.0" y2="507.8" stroke="#5f666c" stroke-width="1.6" stroke-dasharray="1.1,1.2"/>
      <polygon points="805.4,312.0 816.0,308.5 883.3,504.0 873.2,507.4" fill="#f1592a"/>
      <polygon points="792.5,316.2 816.0,308.5 883.3,504.0 860.8,511.5" fill="none" stroke="#3a3f45" stroke-width="0.7"/>
      <line x1="801.2" y1="313.4" x2="869.1" y2="508.7" stroke="#2b5c88" stroke-width="0.5"/>
      <line x1="805.4" y1="312.0" x2="873.2" y2="507.4" stroke="#7a3a24" stroke-width="0.5"/>
      <circle cx="814.3" cy="323.3" r="4" fill="#f1592a" stroke="#4a2a20" stroke-width="0.8"/>
      <circle cx="863.3" cy="501.2" r="3.7" fill="#1e96e1" stroke="#1d3f60" stroke-width="0.8"/>
    </g>
    <g transform="matrix(-1,0,0,1,1787.3,0)">
      <polygon points="792.5,316.2 801.2,313.4 869.1,508.7 860.8,511.5" fill="#1e96e1"/>
      <polygon points="801.2,313.4 805.4,312.0 873.2,507.4 869.1,508.7" fill="#eceef0"/>
      <line x1="804.2" y1="312.4" x2="872.0" y2="507.8" stroke="#5f666c" stroke-width="1.6" stroke-dasharray="1.1,1.2"/>
      <polygon points="805.4,312.0 816.0,308.5 883.3,504.0 873.2,507.4" fill="#f1592a"/>
      <polygon points="792.5,316.2 816.0,308.5 883.3,504.0 860.8,511.5" fill="none" stroke="#3a3f45" stroke-width="0.7"/>
      <line x1="801.2" y1="313.4" x2="869.1" y2="508.7" stroke="#2b5c88" stroke-width="0.5"/>
      <line x1="805.4" y1="312.0" x2="873.2" y2="507.4" stroke="#7a3a24" stroke-width="0.5"/>
      <circle cx="814.3" cy="323.3" r="4" fill="#f1592a" stroke="#4a2a20" stroke-width="0.8"/>
      <circle cx="863.3" cy="501.2" r="3.7" fill="#1e96e1" stroke="#1d3f60" stroke-width="0.8"/>
    </g>

  <!-- corner flaps -->
  <polygon points="793.300,317 793.300,308 812,302 816,308.500 792.500,316.200" fill="#dfe3e6" stroke="#6d7277" stroke-width="0.600"/>
  <polygon points="994,317 994,308 975.300,302 971.300,308.500 994.800,316.200" fill="#dfe3e6" stroke="#6d7277" stroke-width="0.600"/>

  <!-- water in arrows -->
  <path id="wIn" d="M765,320.300 L801.500,320.300 L801.500,316.300 L810.500,323.300 L801.500,330.300 L801.500,326.300 L765,326.300 Z" fill="#ea4f26" stroke="#5a2a1e" stroke-width="0.800"/>
  <use href="#wIn" transform="matrix(-1,0,0,1,1786.700,0)"/>
  <!-- water out arrows -->
  <path id="wOut" d="M855,500 L800,500 L800,496 L789.500,502.300 L800,508.600 L800,504.600 L855,504.600 Z" fill="#1f8fdd" stroke="#1d4f7a" stroke-width="0.700"/>
  <use href="#wOut" transform="matrix(-1,0,0,1,1786.800,0)"/>

  <!-- labels -->
  <g font-size="14" fill="#111" text-anchor="middle">
    <text x="742.500" y="327.700">Water</text><text x="742.500" y="341.700">In</text>
    <text x="1043" y="327.700">Water</text><text x="1043" y="341.700">In</text>
    <text x="770" y="389.300">Cool Dry</text><text x="770" y="403.800">Entering</text><text x="770" y="418.300">Air</text>
    <text x="1015" y="389.300">Cool Dry</text><text x="1015" y="403.800">Entering</text><text x="1015" y="418.300">Air</text>
    <text x="767" y="505">Water</text><text x="767" y="519">Out</text>
    <text x="1018" y="505">Water</text><text x="1018" y="519">Out</text>
  </g>
</g>
<!-- RIGHT-END -->







</svg>
</body>
</html>
